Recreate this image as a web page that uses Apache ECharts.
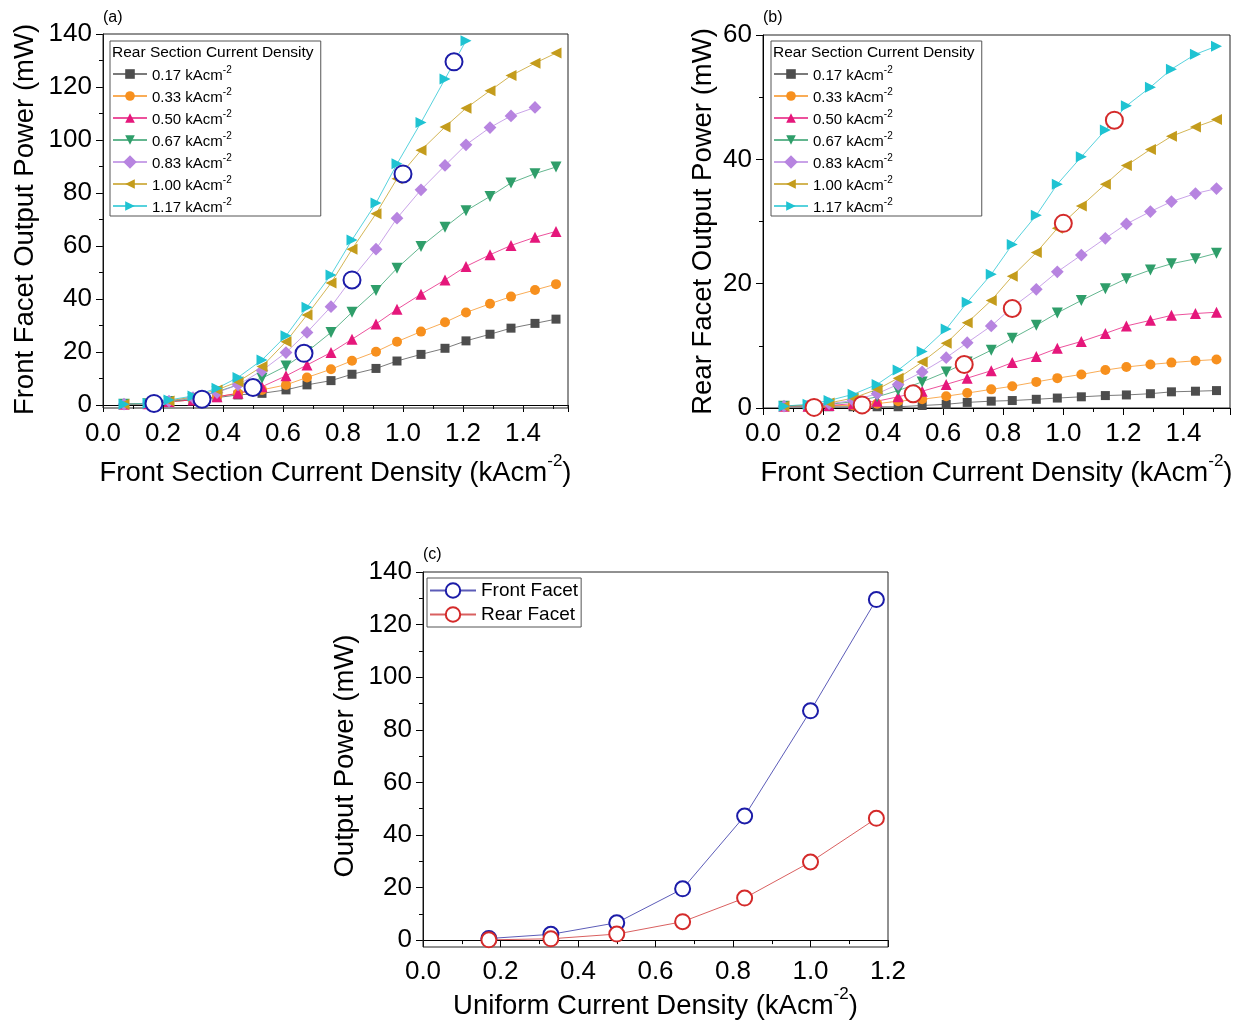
<!DOCTYPE html>
<html>
<head>
<meta charset="utf-8">
<script src="https://cdn.jsdelivr.net/npm/echarts@6/dist/echarts.min.js"></script>
<style>
html,body{margin:0;padding:0;background:#fff;}
#chart{width:1238px;height:1021px;}
</style>
</head>
<body>
<div id="chart"></div>
<script>
// ---------------- DATA ----------------
const frontCurrent = [0.07, 0.15, 0.22, 0.30, 0.38, 0.45, 0.53, 0.61, 0.68, 0.76, 0.83, 0.91, 0.98, 1.06, 1.14, 1.21, 1.29, 1.36, 1.44, 1.51];
const rearCurrentNames = ['0.17 kAcm-2', '0.33 kAcm-2', '0.50 kAcm-2', '0.67 kAcm-2', '0.83 kAcm-2', '1.00 kAcm-2', '1.17 kAcm-2'];

// (a) front facet output power (mW)
const frontP017 = [0.3, 0.5, 1.3, 1.9, 2.8, 3.8, 4.4, 5.7, 7.6, 9.2, 11.6, 13.8, 16.6, 19.1, 21.4, 24.2, 26.7, 29.0, 30.8, 32.4];
const frontP033 = [0.3, 0.6, 1.3, 1.9, 3.1, 4.4, 5.7, 7.6, 10.4, 13.5, 16.7, 20.1, 23.9, 27.7, 31.2, 34.9, 38.2, 40.9, 43.4, 45.6];
const frontP050 = [0.3, 0.5, 1.3, 1.9, 3.1, 4.4, 6.9, 11.0, 15.1, 19.8, 24.8, 30.6, 36.1, 41.8, 47.2, 52.3, 56.7, 60.2, 63.3, 65.5];
const frontP067 = [0.3, 0.5, 1.3, 2.5, 5.0, 7.6, 10.1, 14.7, 20.1, 27.4, 35.0, 43.2, 51.6, 59.8, 67.1, 73.3, 78.7, 83.8, 87.3, 89.8];
const frontP083 = [0.3, 0.6, 1.5, 2.8, 4.7, 7.6, 13.0, 19.8, 27.4, 37.1, 47.8, 58.8, 70.5, 81.2, 90.4, 98.2, 104.7, 109.1, 112.3];
const frontP100 = [0.3, 0.6, 1.5, 3.1, 5.7, 8.8, 14.5, 23.9, 34.0, 46.0, 58.8, 72.2, 85.4, 96.1, 104.9, 112.0, 118.6, 124.3, 129.0, 132.8];
const frontP117 = [0.3, 0.6, 1.9, 3.4, 6.3, 10.4, 17.0, 26.1, 36.9, 49.1, 62.3, 76.2, 91.0, 106.6, 123.0, 137.5];

// (b) rear facet output power (mW)
const rearP017 = [0.3, 0.2, 0.2, 0.2, 0.2, 0.2, 0.4, 0.6, 0.9, 1.1, 1.2, 1.4, 1.6, 1.8, 2.0, 2.1, 2.3, 2.6, 2.7, 2.8];
const rearP033 = [0.3, 0.3, 0.4, 0.4, 0.7, 1.1, 1.4, 1.9, 2.4, 3.0, 3.5, 4.2, 4.8, 5.4, 6.1, 6.6, 7.0, 7.3, 7.6, 7.8];
const rearP050 = [0.3, 0.3, 0.4, 0.7, 1.1, 1.8, 2.7, 3.8, 4.8, 6.0, 7.3, 8.3, 9.6, 10.7, 12.0, 13.2, 14.1, 14.9, 15.2, 15.4];
const rearP067 = [0.3, 0.3, 0.6, 1.0, 1.8, 2.8, 4.2, 5.8, 7.4, 9.3, 11.2, 13.3, 15.3, 17.3, 19.2, 20.8, 22.2, 23.2, 24.0, 24.9];
const rearP083 = [0.3, 0.3, 0.7, 1.2, 2.3, 3.8, 5.8, 8.1, 10.5, 13.2, 16.2, 19.1, 21.9, 24.6, 27.3, 29.6, 31.6, 33.2, 34.5, 35.3];
const rearP100 = [0.3, 0.4, 0.8, 1.6, 3.0, 4.8, 7.4, 10.4, 13.7, 17.3, 21.2, 25.0, 28.9, 32.5, 36.0, 39.0, 41.6, 43.7, 45.2, 46.4];
const rearP117 = [0.3, 0.6, 1.2, 2.2, 3.8, 6.1, 9.1, 12.7, 17.0, 21.5, 26.3, 31.0, 36.0, 40.4, 44.7, 48.6, 51.6, 54.5, 56.9, 58.2];

// (c) uniform current density
const uniformCurrent = [0.17, 0.33, 0.50, 0.67, 0.83, 1.00, 1.17];
const frontFacet = [0.6, 2.2, 6.6, 19.5, 47.2, 87.2, 129.5];
const rearFacet = [0.1, 0.5, 2.3, 7.0, 16.0, 29.7, 46.3];

const xTicksAC = [0.0, 0.2, 0.4, 0.6, 0.8, 1.0, 1.2, 1.4];

// ---------------- STYLE ----------------
const FONT = '"Liberation Sans", Arial, sans-serif';
const colors = ['#4d4d4d', '#f7901e', '#e5177b', '#2f9e6a', '#b784e0', '#c49c1c', '#1fc3d2'];
const symbols = ['rect', 'circle', 'triangle', 'triangle', 'rect', 'triangle', 'triangle'];
const rotations = [0, 0, 0, 180, 45, 90, -90];
const sizes = [9, 10, 11, 11, 9, 11, 11];
const frontSets = [frontP017, frontP033, frontP050, frontP067, frontP083, frontP100, frontP117];
const rearSets = [rearP017, rearP033, rearP050, rearP067, rearP083, rearP100, rearP117];
const NAVY = '#1c1ca8';
const RED = '#d42a2a';
const TICK_FS = 26;
const TITLE_FS = 27.5;

function pairs(xs, ys) { return ys.map((y, i) => [xs[i], y]); }

const richAxisName = {
  n: { fontSize: TITLE_FS, fontFamily: FONT, color: '#000', lineHeight: 34, verticalAlign: 'bottom' },
  s: { fontSize: 17, fontFamily: FONT, color: '#000', lineHeight: 34, verticalAlign: 'top', padding: [0, 0, 16, 0] }
};

function valueAxis(opts) {
  return Object.assign({
    type: 'value',
    axisLine: { show: true, lineStyle: { color: '#000', width: 1 } },
    axisTick: { show: true, inside: false, length: 7, lineStyle: { color: '#000' } },
    minorTick: { show: true, splitNumber: 2, length: 4, lineStyle: { color: '#000' } },
    splitLine: { show: false },
    minorSplitLine: { show: false },
    axisLabel: { fontSize: TICK_FS, fontFamily: FONT, color: '#000', margin: 11 },
    nameLocation: 'middle',
    nameTextStyle: { fontSize: TITLE_FS, fontFamily: FONT, color: '#000', rich: richAxisName }
  }, opts);
}

const series = [];
// (a)
frontSets.forEach((ys, k) => {
  series.push({
    name: rearCurrentNames[k], type: 'line', xAxisIndex: 0, yAxisIndex: 0,
    data: pairs(frontCurrent, ys),
    symbol: symbols[k], symbolRotate: rotations[k], symbolSize: sizes[k],
    lineStyle: { color: colors[k], width: 1, opacity: 0.75 },
    itemStyle: { color: colors[k] }, color: colors[k], z: 3, animation: false
  });
});
series.push({
  name: 'Front Facet (a)', type: 'line', xAxisIndex: 0, yAxisIndex: 0,
  data: pairs(uniformCurrent, frontFacet), symbol: 'emptyCircle', symbolSize: 17,
  lineStyle: { width: 0, opacity: 0 }, itemStyle: { color: NAVY, borderColor: NAVY, borderWidth: 1.5, opacity: 1 }, z: 5, animation: false
});
// (b)
rearSets.forEach((ys, k) => {
  series.push({
    name: rearCurrentNames[k], type: 'line', xAxisIndex: 1, yAxisIndex: 1,
    data: pairs(frontCurrent, ys),
    symbol: symbols[k], symbolRotate: rotations[k], symbolSize: sizes[k],
    lineStyle: { color: colors[k], width: 1, opacity: 0.75 },
    itemStyle: { color: colors[k] }, color: colors[k], z: 3, animation: false
  });
});
series.push({
  name: 'Rear Facet (b)', type: 'line', xAxisIndex: 1, yAxisIndex: 1,
  data: pairs(uniformCurrent, rearFacet), symbol: 'emptyCircle', symbolSize: 17,
  lineStyle: { width: 0, opacity: 0 }, itemStyle: { color: RED, borderColor: RED, borderWidth: 1.5 }, z: 5, animation: false
});
// (c)
series.push({
  name: 'Front Facet', type: 'line', xAxisIndex: 2, yAxisIndex: 2,
  data: pairs(uniformCurrent, frontFacet), symbol: 'emptyCircle', symbolSize: 15,
  lineStyle: { color: '#5c5cb8', width: 1 }, itemStyle: { color: NAVY, borderColor: NAVY, borderWidth: 2.2 }, color: NAVY, z: 4, animation: false
});
series.push({
  name: 'Rear Facet', type: 'line', xAxisIndex: 2, yAxisIndex: 2,
  data: pairs(uniformCurrent, rearFacet), symbol: 'emptyCircle', symbolSize: 15,
  lineStyle: { color: '#d96060', width: 1 }, itemStyle: { color: RED, borderColor: RED, borderWidth: 2.2 }, color: RED, z: 4, animation: false
});

const legendRich = {
  n: { fontSize: 15, fontFamily: FONT, color: '#000', lineHeight: 18, verticalAlign: 'bottom' },
  s: { fontSize: 10, fontFamily: FONT, color: '#000', lineHeight: 18, verticalAlign: 'top', padding: [0, 0, 8, 0] }
};
function legendFmt(name) {
  return '{n|' + name.replace(/-2$/, '') + '}{s|-2}';
}
function xFmt(v) {
  const ok = xTicksAC.some(t => Math.abs(t - v) < 1e-6);
  return ok ? v.toFixed(1) : '';
}
const xLabel = { fontSize: TICK_FS, fontFamily: FONT, color: '#000', margin: 13, formatter: xFmt, showMaxLabel: false };

const frameGrid = (l, t, w, h) => ({ left: l, top: t, width: w, height: h, show: true, borderColor: '#222', borderWidth: 1, backgroundColor: 'transparent', z: 1 });

const rearLegend = (left) => ({
  data: rearCurrentNames, orient: 'vertical', left: left, top: 41,
  padding: [24, 89, 1, 2], itemGap: 4, itemWidth: 34, itemHeight: 12,
  borderColor: '#555', borderWidth: 1, backgroundColor: '#fff',
  formatter: legendFmt, textStyle: { rich: legendRich, fontSize: 15, fontFamily: FONT, color: '#000' },
  selectedMode: false, z: 10
});

const option = {
  backgroundColor: '#fff',
  animation: false,
  grid: [
    { left: 103, top: 34, width: 465, height: 371, containLabel: false },
    { left: 763, top: 35, width: 467, height: 373, containLabel: false, show: true, borderColor: '#222', borderWidth: 1 },
    { left: 423, top: 572, width: 465, height: 369, containLabel: false },
    frameGrid(103, 34, 465, 374),
    frameGrid(423, 572, 465, 375)
  ],
  xAxis: [
    valueAxis({ gridIndex: 0, min: 0, max: 1.55, interval: 0.2, offset: 3, axisLabel: xLabel,
      name: '{n|Front Section Current Density (kAcm}{s|-2}{n|)}', nameGap: 45 }),
    valueAxis({ gridIndex: 1, min: 0, max: 1.555, interval: 0.2, axisLabel: xLabel,
      name: '{n|Front Section Current Density (kAcm}{s|-2}{n|)}', nameGap: 45 }),
    valueAxis({ gridIndex: 2, min: 0, max: 1.2, interval: 0.2, offset: 6, axisLabel: Object.assign({}, xLabel, { showMaxLabel: true }),
      name: '{n|Uniform Current Density (kAcm}{s|-2}{n|)}', nameGap: 38 })
  ],
  yAxis: [
    valueAxis({ gridIndex: 0, min: 0, max: 140, interval: 20,
      name: 'Front Facet Output Power (mW)', nameGap: 64, nameRotate: 90 }),
    valueAxis({ gridIndex: 1, min: 0, max: 60, interval: 20,
      name: 'Rear Facet Output Power (mW)', nameGap: 46, nameRotate: 90 }),
    valueAxis({ gridIndex: 2, min: 0, max: 140, interval: 20,
      name: 'Output Power (mW)', nameGap: 64, nameRotate: 90 })
  ],
  legend: [
    rearLegend(110),
    rearLegend(771),
    {
      data: ['Front Facet', 'Rear Facet'], orient: 'vertical', left: 427, top: 578,
      padding: [3, 3, 3, 2], itemGap: 5, itemWidth: 46, itemHeight: 18,
      borderColor: '#555', borderWidth: 1, backgroundColor: '#fff',
      textStyle: { fontSize: 19, fontFamily: FONT, color: '#000' },
      selectedMode: false, z: 10
    }
  ],
  graphic: [
    { type: 'text', left: 103, top: 10, style: { text: '(a)', fontSize: 16, fontFamily: FONT, fill: '#000' }, z: 20 },
    { type: 'text', left: 763, top: 10, style: { text: '(b)', fontSize: 16, fontFamily: FONT, fill: '#000' }, z: 20 },
    { type: 'text', left: 423, top: 547, style: { text: '(c)', fontSize: 16, fontFamily: FONT, fill: '#000' }, z: 20 },
    { type: 'text', left: 112, top: 45, style: { text: 'Rear Section Current Density', fontSize: 15.5, fontFamily: FONT, fill: '#000' }, z: 100 },
    { type: 'text', left: 773, top: 45, style: { text: 'Rear Section Current Density', fontSize: 15.5, fontFamily: FONT, fill: '#000' }, z: 100 }
  ],
  series: series
};

const chart = echarts.init(document.getElementById('chart'), null, { renderer: 'canvas' });
chart.setOption(option);
</script>
</body>
</html>
